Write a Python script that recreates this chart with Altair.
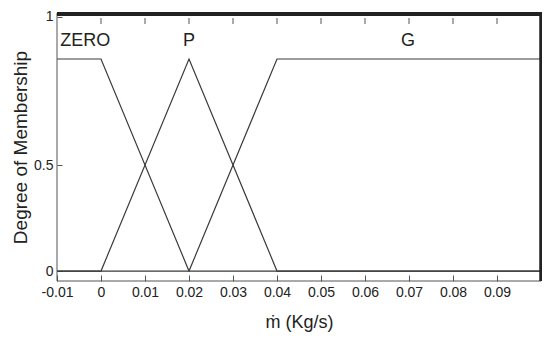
import altair as alt
import pandas as pd

# Membership function breakpoints (x in Kg/s, y = degree of membership)
zero_x = [-0.01, 0.0, 0.02, 0.1]
zero_y = [1.0, 1.0, 0.0, 0.0]
p_x = [-0.01, 0.0, 0.02, 0.04, 0.1]
p_y = [0.0, 0.0, 1.0, 0.0, 0.0]
g_x = [-0.01, 0.02, 0.04, 0.1]
g_y = [0.0, 0.0, 1.0, 1.0]

set_names = ["ZERO", "P", "G"]
label_x = [-0.0036, 0.02, 0.0698]
label_y = [1.063, 1.063, 1.063]

x_ticks = [-0.01, 0.0, 0.01, 0.02, 0.03, 0.04, 0.05, 0.06, 0.07, 0.08, 0.09]
y_ticks = [0, 0.5, 1.2]

rows = []
for name, xs, ys in [("ZERO", zero_x, zero_y), ("P", p_x, p_y), ("G", g_x, g_y)]:
    for i, (a, b) in enumerate(zip(xs, ys)):
        rows.append({"set": name, "order": i, "x": a, "y": b})
df = pd.DataFrame(rows)
lab = pd.DataFrame({"name": set_names, "x": label_x, "y": label_y})
tk = pd.DataFrame({"x": x_ticks[1:]})

W, H = 484, 268
FONT = "Liberation Sans"

xscale = alt.Scale(domain=[-0.01, 0.1], nice=False, zero=False)
yscale = alt.Scale(domain=[-0.047, 1.217], nice=False, zero=False)

lines = alt.Chart(df).mark_line(color="#3a3a3a", strokeWidth=1.2).encode(
    x=alt.X("x:Q", scale=xscale,
            axis=alt.Axis(values=x_ticks,
                          labelExpr="datum.value == 0 ? '0' : datum.value < 0 ? '-' + format(-datum.value, '.2f') : format(datum.value, '.2f')",
                          domain=False, grid=False, offset=-6, tickSize=6, tickColor="#555",
                          labelPadding=4, labelFontSize=14, labelFont=FONT, labelColor="#222",
                          labelFlush=False,
                          title="ṁ (Kg/s)", titleFont=FONT, titleFontSize=18, titleFontWeight="normal",
                          titleColor="#222", titlePadding=14)),
    y=alt.Y("y:Q", scale=yscale,
            axis=alt.Axis(values=y_ticks,
                          labelExpr="datum.value > 1 ? '1' : datum.value == 0 ? '0' : '0.5'",
                          domain=False, grid=False, offset=-5, tickSize=5, tickColor="#555",
                          labelPadding=4, labelFontSize=14, labelFont=FONT, labelColor="#222",
                          labelFlush=False,
                          title="Degree of Membership", titleFont=FONT, titleFontSize=19,
                          titleFontWeight="normal", titleColor="#222", titlePadding=3)),
    detail="set:N",
    order="order:Q",
)

top_ticks = alt.Chart(tk).mark_rule(color="#555", strokeWidth=1).encode(
    x=alt.X("x:Q", scale=xscale, axis=None),
    y=alt.value(5),
    y2=alt.value(11),
)

labels = alt.Chart(lab).mark_text(font=FONT, fontSize=18, color="#222", baseline="alphabetic").encode(
    x=alt.X("x:Q", scale=xscale, axis=None),
    y=alt.Y("y:Q", scale=yscale, axis=None),
    text="name:N",
)

left_line = alt.Chart().mark_rule(color="#555", strokeWidth=1).encode(
    x=alt.value(0), y=alt.value(0), y2=alt.value(H))
bottom_line = alt.Chart().mark_rule(color="#555", strokeWidth=1).encode(
    x=alt.value(0), x2=alt.value(W), y=alt.value(H))
top_line = alt.Chart().mark_rule(color="#222", strokeWidth=4).encode(
    x=alt.value(0), x2=alt.value(W + 2), y=alt.value(1))
right_line = alt.Chart().mark_rule(color="#222", strokeWidth=3.5).encode(
    x=alt.value(W), y=alt.value(0), y2=alt.value(H))

chart = alt.layer(lines, top_ticks, labels, left_line, bottom_line, top_line, right_line).resolve_axis(
    x="independent", y="independent"
).properties(
    width=W, height=H,
    background="white",
    autosize=alt.AutoSizeParams(type="none"),
    padding={"left": 49, "top": 5, "right": 1, "bottom": 56},
).configure_view(stroke=None)

chart.save("out.html", embed_options={"renderer": "svg", "actions": False})
